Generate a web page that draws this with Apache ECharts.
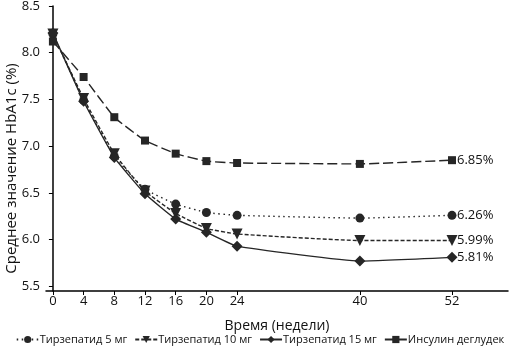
<!DOCTYPE html>
<html lang="ru">
<head>
<meta charset="UTF-8">
<title>HbA1c</title>
<script src="https://cdn.jsdelivr.net/npm/echarts@6/dist/echarts.min.js"></script>
<style>
  body { margin: 0; background: #fff; }
  #chart { width: 520px; height: 353px; }
</style>
</head>
<body>
<div id="chart"></div>
<script>
// недели
const weeks = [0, 4, 8, 12, 16, 20, 24, 40, 52];
const yTicks = [5.5, 6.0, 6.5, 7.0, 7.5, 8.0, 8.5];

const seriesNames = ['Тирзепатид 5 мг', 'Тирзепатид 10 мг', 'Тирзепатид 15 мг', 'Инсулин деглудек'];
const tirz5 = [8.20, 7.49, 6.89, 6.54, 6.38, 6.29, 6.26, 6.23, 6.26];
const tirz10 = [8.20, 7.51, 6.92, 6.52, 6.28, 6.12, 6.06, 5.99, 5.99];
const tirz15 = [8.21, 7.48, 6.88, 6.49, 6.22, 6.08, 5.93, 5.77, 5.81];
const degludec = [8.12, 7.74, 7.31, 7.06, 6.92, 6.84, 6.82, 6.81, 6.85];
const endLabels = ['6.26%', '5.99%', '5.81%', '6.85%'];

const chart = echarts.init(document.getElementById('chart'));
const font = 'Open Sans';
const ink = '#262626';

function pairs(vals) {
  return weeks.map((w, i) => [w, vals[i]]);
}

const styles = [
  { data: tirz5, symbol: 'circle', size: 9, rotate: 0, type: [1.5, 3.5] },
  { data: tirz10, symbol: 'triangle', size: 11, rotate: 180, type: [4, 2] },
  { data: tirz15, symbol: 'diamond', size: 11, rotate: 0, type: 'solid' },
  { data: degludec, symbol: 'rect', size: 8, rotate: 0, type: [10, 4] }
];

const series = styles.map((s, i) => ({
  name: seriesNames[i],
  type: 'line',
  data: pairs(s.data),
  symbol: s.symbol,
  symbolSize: s.size,
  symbolRotate: s.rotate,
  smooth: 0.12,
  itemStyle: { color: ink },
  lineStyle: { color: ink, width: 1.4, type: s.type },
  endLabel: {
    show: true,
    formatter: endLabels[i],
    color: '#111',
    fontFamily: font,
    fontSize: 13,
    distance: 5
  }
}));

chart.setOption({
  animation: false,
  grid: { left: 46, right: 12, top: 6, bottom: 62, outerBoundsMode: 'none', containLabel: false },
  xAxis: {
    type: 'value',
    min: -0.9,
    max: 59.3,
    name: 'Время (недели)',
    nameLocation: 'middle',
    nameGap: 28,
    nameMoveOverlap: false,
    nameTextStyle: { color: '#111', fontFamily: font, fontSize: 14 },
    axisLine: { lineStyle: { color: '#000', width: 1.5 } },
    axisTick: { show: true, customValues: weeks, length: 4, lineStyle: { color: '#000' } },
    axisLabel: { customValues: weeks, color: '#111', fontFamily: font, fontSize: 13, margin: 4 },
    splitLine: { show: false }
  },
  yAxis: {
    type: 'value',
    min: 5.45,
    max: 8.5,
    name: 'Среднее значение HbA1c (%)',
    nameLocation: 'middle',
    nameGap: 27,
    nameMoveOverlap: false,
    nameTextStyle: { color: '#111', fontFamily: font, fontSize: 15, padding: [0, 40, 0, 0] },
    axisLine: { show: true, lineStyle: { color: '#000', width: 1.5 } },
    axisTick: { show: true, customValues: yTicks, length: 4, lineStyle: { color: '#000' } },
    axisLabel: {
      customValues: yTicks,
      formatter: v => v.toFixed(1),
      color: '#111', fontFamily: font, fontSize: 13, margin: 6
    },
    splitLine: { show: false }
  },
  legend: {
    bottom: 3,
    left: 'center',
    itemGap: 7,
    itemWidth: 22,
    itemHeight: 9,
    textStyle: { color: '#111', fontFamily: font, fontSize: 11, padding: [0, 0, 0, -4] }
  },
  series: series
});
</script>
</body>
</html>
